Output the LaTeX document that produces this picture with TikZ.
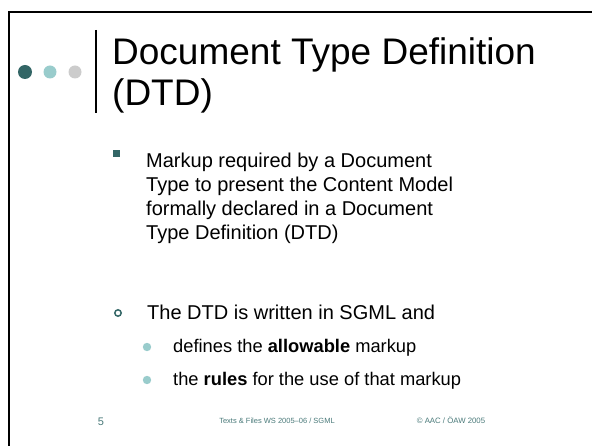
\documentclass[tikz,border=0pt]{standalone}
\usepackage{fontspec}
\setmainfont{Liberation Sans}
\definecolor{teal1}{HTML}{336666}
\definecolor{teal2}{HTML}{99CCCC}
\definecolor{gray1}{HTML}{CCCCCC}
\definecolor{foot}{HTML}{4A7A7A}
\begin{document}
\begin{tikzpicture}[x=1pt,y=-1pt,
  txt/.style={anchor=base west,inner sep=0pt},
  title/.style={txt,font=\fontsize{37}{42}\selectfont},
  body/.style={txt,font=\fontsize{20}{24}\selectfont,align=left},
  sub/.style={txt,font=\fontsize{18.3}{22}\selectfont},
  foottxt/.style={anchor=base,inner sep=0pt,text=foot}]
\useasboundingbox (0,0) rectangle (592,446);
\fill[white] (0,0) rectangle (592,446);
\draw[line width=2.5pt] (9,446) -- (9,12) -- (592,12);
\fill[teal1] (25,72) circle (7);
\fill[teal2] (50,72) circle (6.5);
\fill[gray1] (75,72) circle (6.5);
\draw[line width=1.5pt] (96,30) -- (96,113);
\node[title] (t1) at (112,65) {Document Type Definition};
\node[title] (t2) at (112,106) {(DTD)};
\fill[teal1] (113,150) rectangle (120,157);
\node[body] (b1) at (146,168) {Markup required by a Document};
\node[body] (b2) at (146,192) {Type to present the Content Model};
\node[body] (b3) at (146,216) {formally declared in a Document};
\node[body] (b4) at (146,240) {Type Definition (DTD)};
\draw[teal1,line width=1.5pt] (118,313) circle (3.2);
\node[body] (c1) at (147,320) {The DTD is written in SGML and};
\fill[teal2] (147,347) circle (4.2);
\node[sub] (s1) at (173,353) {defines the \textbf{allowable} markup};
\fill[teal2] (147,380) circle (4.2);
\node[sub] (s2) at (173,386) {the \textbf{rules} for the use of that markup};
\node[foottxt,font=\fontsize{11}{13}\selectfont] (f1) at (101,425) {5};
\node[foottxt,font=\fontsize{7.5}{9}\selectfont] (f2) at (277,424) {Texts \& Files WS 2005–06 / SGML};
\node[foottxt,font=\fontsize{7.8}{9}\selectfont] (f3) at (451,424) {© AAC / ÖAW 2005};
\end{tikzpicture}
\end{document}
